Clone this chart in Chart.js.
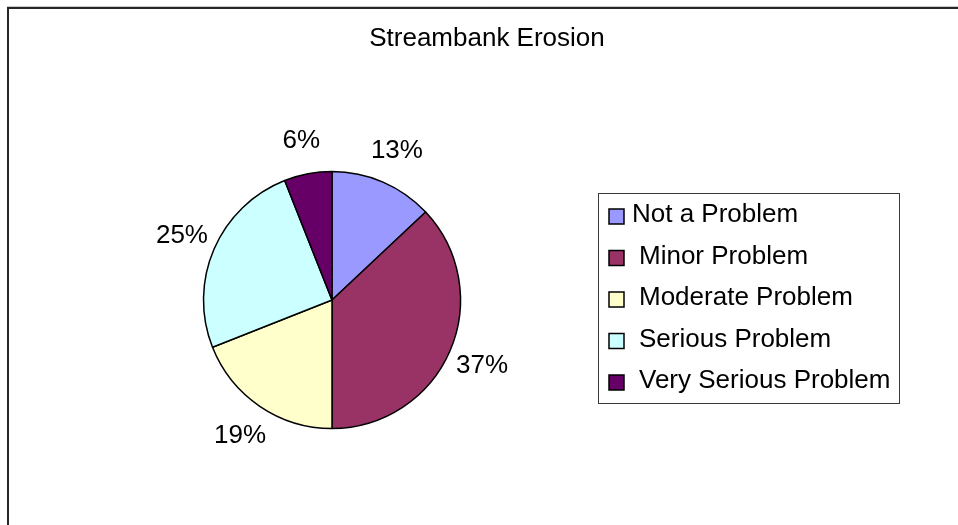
<!DOCTYPE html>
<html>
<head>
<meta charset="utf-8">
<title>Streambank Erosion</title>
<script src="https://cdn.jsdelivr.net/npm/chart.js@4/dist/chart.umd.min.js"></script>
<style>
  html, body { margin: 0; padding: 0; background: #ffffff; }
  #wrap { width: 958px; height: 525px; position: relative; }
  canvas { display: block; }
</style>
</head>
<body>
<div id="wrap"><canvas id="pie" width="958" height="525"></canvas></div>
<script>
// Survey responses: how much of a problem streambank erosion is
const chartTitle = 'Streambank Erosion';
const categories = ['Not a Problem', 'Minor Problem', 'Moderate Problem', 'Serious Problem', 'Very Serious Problem'];
const shares = [13, 37, 19, 25, 6];
const sliceColors = ['#9999FF', '#993366', '#FFFFCC', '#CCFFFF', '#660066'];

const FONT = '"Liberation Sans", Arial, sans-serif';
const FONT_SIZE = 26;

// Outer frame and title
const framePlugin = {
  id: 'frame',
  beforeDraw(chart) {
    const ctx = chart.ctx;
    ctx.save();
    ctx.fillStyle = '#ffffff';
    ctx.fillRect(0, 0, chart.width, chart.height);
    ctx.strokeStyle = '#c8c8c8';
    ctx.lineWidth = 1;
    ctx.beginPath();
    ctx.moveTo(7, 6.5);
    ctx.lineTo(chart.width, 6.5);
    ctx.stroke();
    ctx.strokeStyle = '#262626';
    ctx.lineWidth = 2;
    ctx.beginPath();
    ctx.moveTo(8, chart.height);
    ctx.lineTo(8, 8);
    ctx.lineTo(chart.width, 8);
    ctx.stroke();
    ctx.fillStyle = '#000000';
    ctx.font = FONT_SIZE + 'px ' + FONT;
    ctx.textAlign = 'center';
    ctx.textBaseline = 'middle';
    ctx.fillText(chartTitle, 487, 39);
    ctx.restore();
  }
};

// Percentage labels just outside each slice
const outsideLabels = {
  id: 'outsideLabels',
  afterDatasetsDraw(chart) {
    const ctx = chart.ctx;
    const meta = chart.getDatasetMeta(0);
    const values = chart.data.datasets[0].data;
    const total = values.reduce((a, b) => a + b, 0);
    ctx.save();
    ctx.fillStyle = '#000000';
    ctx.font = FONT_SIZE + 'px ' + FONT;
    ctx.textAlign = 'center';
    ctx.textBaseline = 'middle';
    meta.data.forEach((arc, i) => {
      const p = arc.getProps(['x', 'y', 'startAngle', 'endAngle', 'outerRadius'], true);
      const mid = (p.startAngle + p.endAngle) / 2;
      const d = p.outerRadius + 35;
      const text = Math.round(values[i] / total * 100) + '%';
      ctx.fillText(text, p.x + Math.cos(mid) * d, p.y + Math.sin(mid) * d + 1);
    });
    ctx.restore();
  }
};

// Boxed legend on the right
const boxedLegend = {
  id: 'boxedLegend',
  afterDraw(chart) {
    const ctx = chart.ctx;
    const ds = chart.data.datasets[0];
    const box = { x: 598.5, y: 193.5, w: 301, h: 210 };
    ctx.save();
    ctx.strokeStyle = '#3a3a3a';
    ctx.lineWidth = 1;
    ctx.strokeRect(box.x, box.y, box.w, box.h);
    ctx.font = FONT_SIZE + 'px ' + FONT;
    ctx.textAlign = 'left';
    ctx.textBaseline = 'middle';
    chart.data.labels.forEach((label, i) => {
      const cy = 214 + i * 41.5;
      ctx.fillStyle = ds.backgroundColor[i];
      ctx.fillRect(609, cy - 5, 15, 15);
      ctx.strokeStyle = '#000000';
      ctx.lineWidth = 1.5;
      ctx.strokeRect(609, cy - 5, 15, 15);
      ctx.fillStyle = '#000000';
      ctx.fillText(label, i === 0 ? 632 : 639, cy + 1);
    });
    ctx.restore();
  }
};

new Chart(document.getElementById('pie'), {
  type: 'pie',
  data: {
    labels: categories,
    datasets: [{
      data: shares,
      backgroundColor: sliceColors,
      borderColor: '#000000',
      borderWidth: 1.5,
      hoverOffset: 0
    }]
  },
  options: {
    responsive: false,
    animation: false,
    events: [],
    layout: {
      padding: { left: 202.75, right: 496.75, top: 170.75, bottom: 95.75 }
    },
    plugins: {
      legend: { display: false },
      title: { display: false },
      tooltip: { enabled: false }
    }
  },
  plugins: [framePlugin, outsideLabels, boxedLegend]
});
</script>
</body>
</html>
